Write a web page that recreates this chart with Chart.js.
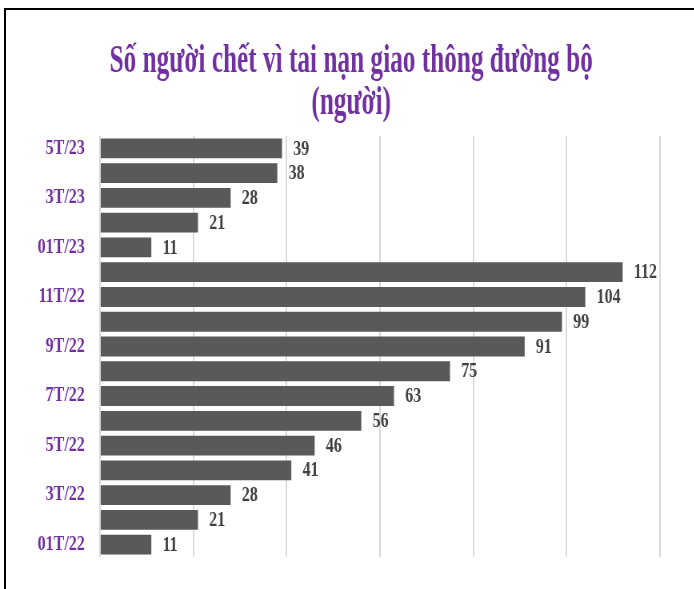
<!DOCTYPE html>
<html lang="vi">
<head>
<meta charset="utf-8">
<title>Số người chết vì tai nạn giao thông đường bộ</title>
<script src="https://cdn.jsdelivr.net/npm/chart.js@4.4.1/dist/chart.umd.min.js"></script>
<style>
  html, body { margin: 0; padding: 0; background: #fff; }
  #stage { position: relative; width: 694px; height: 589px; overflow: hidden; }
  /* the reference text is horizontally squeezed, so the chart is drawn wider and condensed */
  #wrap { position: absolute; left: 0; top: 0; width: 868px; height: 589px; transform: scaleX(0.8); transform-origin: 0 0; }
  #frame { position: absolute; left: 4px; top: 8px; right: -4px; bottom: -4px; border-top: 2px solid #000; border-left: 2px solid #000; pointer-events: none; }
</style>
</head>
<body>
<div id="stage">
  <div id="wrap"><canvas id="chart"></canvas></div>
  <div id="frame"></div>
</div>
<script>
const months = ['01T/22', '2T/22', '3T/22', '4T/22', '5T/22', '6T/22', '7T/22', '8T/22', '9T/22',
  '10T/22', '11T/22', '12T/22', '01T/23', '2T/23', '3T/23', '4T/23', '5T/23'];
const deaths = [11, 21, 28, 41, 46, 56, 63, 75, 91, 99, 104, 112, 11, 21, 28, 38, 39];
const titleLines = ['Số người chết vì tai nạn giao thông đường bộ', '(người)'];
const xMin = 0;
const xMax = 120;
const xStep = 20;

const serif = '"Liberation Serif", "Times New Roman", serif';
const purple = '#7030A0';

// title is squeezed a bit more than the rest, so it is drawn here
const squeezedTitle = {
  id: 'squeezedTitle',
  afterDraw(chart) {
    const { ctx } = chart;
    ctx.save();
    ctx.translate(439, 0);
    ctx.scale(0.79, 1);
    ctx.font = `bold 40px ${serif}`;
    ctx.fillStyle = purple;
    ctx.textAlign = 'center';
    ctx.textBaseline = 'middle';
    titleLines.forEach((line, i) => ctx.fillText(line, 0, 62 + i * 42));
    ctx.restore();
  }
};

// value labels at the end of each bar
const barValues = {
  id: 'barValues',
  afterDatasetsDraw(chart) {
    const { ctx } = chart;
    const meta = chart.getDatasetMeta(0);
    ctx.save();
    ctx.font = `bold 20px ${serif}`;
    ctx.fillStyle = '#404040';
    ctx.textAlign = 'left';
    ctx.textBaseline = 'middle';
    meta.data.forEach((bar, i) => {
      ctx.fillText(String(deaths[i]), bar.x + 14, bar.y + 1);
    });
    ctx.restore();
  }
};

new Chart(document.getElementById('chart').getContext('2d'), {
  type: 'bar',
  data: {
    labels: months,
    datasets: [{
      data: deaths,
      backgroundColor: '#595959',
      borderWidth: 0,
      barPercentage: 0.8,
      categoryPercentage: 1
    }]
  },
  options: {
    indexAxis: 'y',
    responsive: true,
    maintainAspectRatio: false,
    animation: false,
    layout: { padding: { left: 0, right: 43, top: 136, bottom: 32 } },
    scales: {
      x: {
        min: xMin,
        max: xMax,
        ticks: { display: false, stepSize: xStep },
        grid: { color: '#d9d9d9', lineWidth: 2, drawTicks: false },
        border: { display: false }
      },
      y: {
        reverse: true,
        afterFit: (scale) => { scale.width = 125; },
        grid: { display: false, drawTicks: false },
        border: { display: false },
        ticks: {
          autoSkip: false,
          padding: 19,
          color: purple,
          font: { family: serif, size: 20, weight: 'bold' },
          callback: (value, index) => (index % 2 === 0 ? months[index] : '')
        }
      }
    },
    plugins: {
      legend: { display: false },
      tooltip: { enabled: false },
      title: { display: false }
    }
  },
  plugins: [barValues, squeezedTitle]
});
</script>
</body>
</html>
